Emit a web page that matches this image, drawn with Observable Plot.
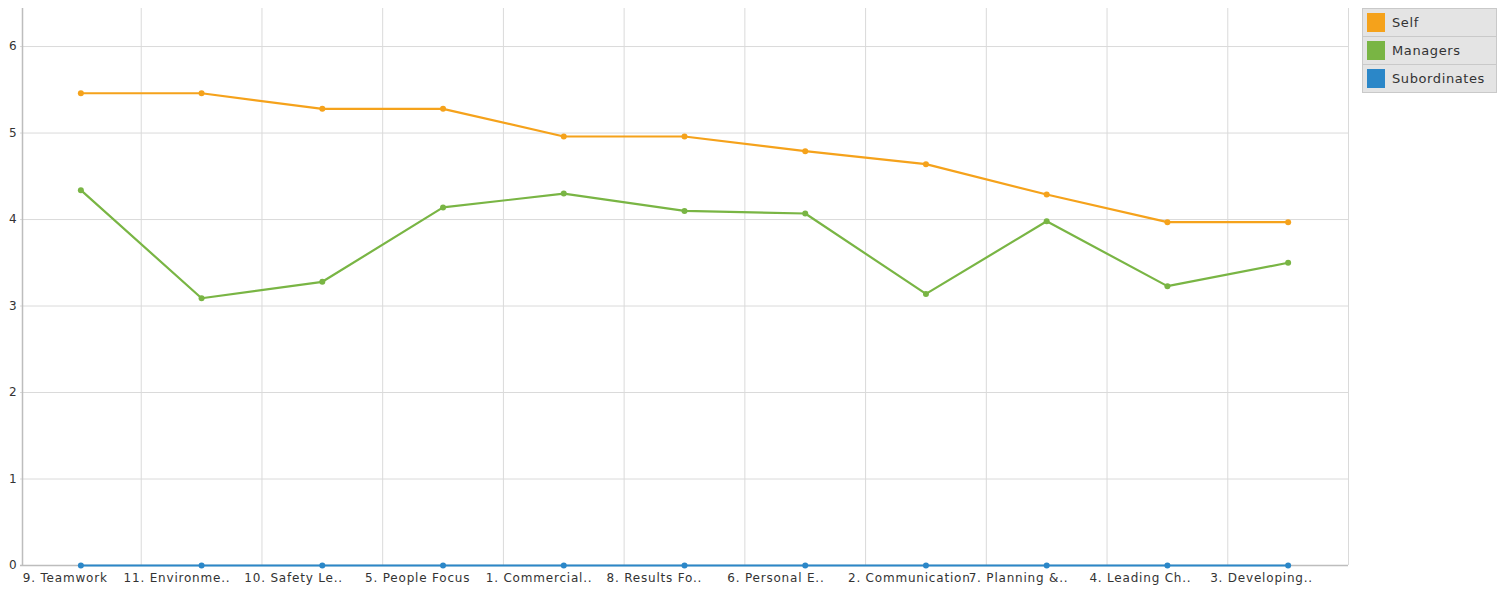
<!DOCTYPE html>
<html>
<head>
<meta charset="utf-8">
<script src="https://cdn.jsdelivr.net/npm/d3@7"></script>
<script src="https://cdn.jsdelivr.net/npm/@observablehq/plot@0.6"></script>
<style>
  html, body { margin: 0; padding: 0; background: #fff; }
  #wrap { position: relative; width: 1505px; height: 591px; font-family: "DejaVu Sans", sans-serif; }
  #legend { position: absolute; left: 1362px; top: 8px; width: 135px; background: #e4e4e4; border: 1px solid #c9c9c9; box-sizing: border-box; }
  .row { height: 27px; display: flex; align-items: center; border-bottom: 1px solid #c9c9c9; font-size: 13px; letter-spacing: 0.6px; color: #333; white-space: nowrap; overflow: hidden; }
  .row:last-child { border-bottom: none; }
  .sw { width: 18px; height: 19px; margin: 0 7px 0 4px; flex: none; }
</style>
</head>
<body>
<div id="wrap"><div id="chart"></div><div id="legend"></div></div>
<script>
const categories = ["9. Teamwork", "11. Environme..", "10. Safety Le..", "5. People Focus", "1. Commercial..", "8. Results Fo..", "6. Personal E..", "2. Communication", "7. Planning &..", "4. Leading Ch..", "3. Developing.."];
const selfValues = [5.46, 5.46, 5.28, 5.28, 4.96, 4.96, 4.79, 4.64, 4.29, 3.97, 3.97];
const managerValues = [4.34, 3.09, 3.28, 4.14, 4.30, 4.10, 4.07, 3.14, 3.98, 3.23, 3.50];
const subordinateValues = [0, 0, 0, 0, 0, 0, 0, 0, 0, 0, 0];
const seriesNames = ["Self", "Managers", "Subordinates"];
const seriesColors = ["#f5a21b", "#79b544", "#2b87c8"];
const yTicks = [0, 1, 2, 3, 4, 5, 6];

const seriesValues = [selfValues, managerValues, subordinateValues];
const data = [];
seriesNames.forEach((s, i) => categories.forEach((c, j) => data.push({series: s, category: c, value: seriesValues[i][j]})));

const W = 1505, H = 591, ML = 20, MR = 157, MT = 8, MB = 26;
const step = (W - ML - MR) / categories.length;
const font = "DejaVu Sans, sans-serif";

const chart = Plot.plot({
  width: W, height: H,
  marginLeft: ML, marginRight: MR, marginTop: MT, marginBottom: MB,
  style: {fontFamily: font, fontSize: "12px", color: "#333", background: "#fff", letterSpacing: "0.8px"},
  x: {type: "point", domain: categories, padding: 0.5, round: false, axis: null},
  y: {domain: [0, 6.44], axis: null},
  color: {domain: seriesNames, range: seriesColors},
  marks: [
    Plot.ruleY(yTicks.filter(d => d > 0), {stroke: "#dadada", strokeWidth: 1}),
    Plot.ruleX(categories, {dx: step / 2, stroke: "#dadada", strokeWidth: 1}),
    Plot.ruleX([categories[0]], {dx: -step / 2 + 2, stroke: "#bdbdbd", strokeWidth: 1.5}),
    Plot.ruleY([0], {stroke: "#bdbdbd", strokeWidth: 1.5}),
    Plot.text(yTicks, {x: () => categories[0], y: d => d, text: d => String(d), dx: -step / 2 - 3, textAnchor: "end", fill: "#333"}),
    Plot.line(data, {x: "category", y: "value", z: "series", stroke: "series", strokeWidth: 2.2}),
    Plot.dot(data, {x: "category", y: "value", fill: "series", r: 3}),
    Plot.text(categories.slice(0, 1), {x: d => d, y: () => 0, dy: 13, dx: -58, textAnchor: "start", fill: "#333"}),
    Plot.text(categories.slice(1), {x: d => d, y: () => 0, dy: 13, dx: -78, textAnchor: "start", fill: "#333"})
  ]
});
document.getElementById("chart").appendChild(chart);

const legend = document.getElementById("legend");
seriesNames.forEach((s, i) => {
  const row = document.createElement("div");
  row.className = "row";
  const sw = document.createElement("div");
  sw.className = "sw";
  sw.style.background = seriesColors[i];
  row.appendChild(sw);
  row.appendChild(document.createTextNode(s));
  legend.appendChild(row);
});
</script>
</body>
</html>
